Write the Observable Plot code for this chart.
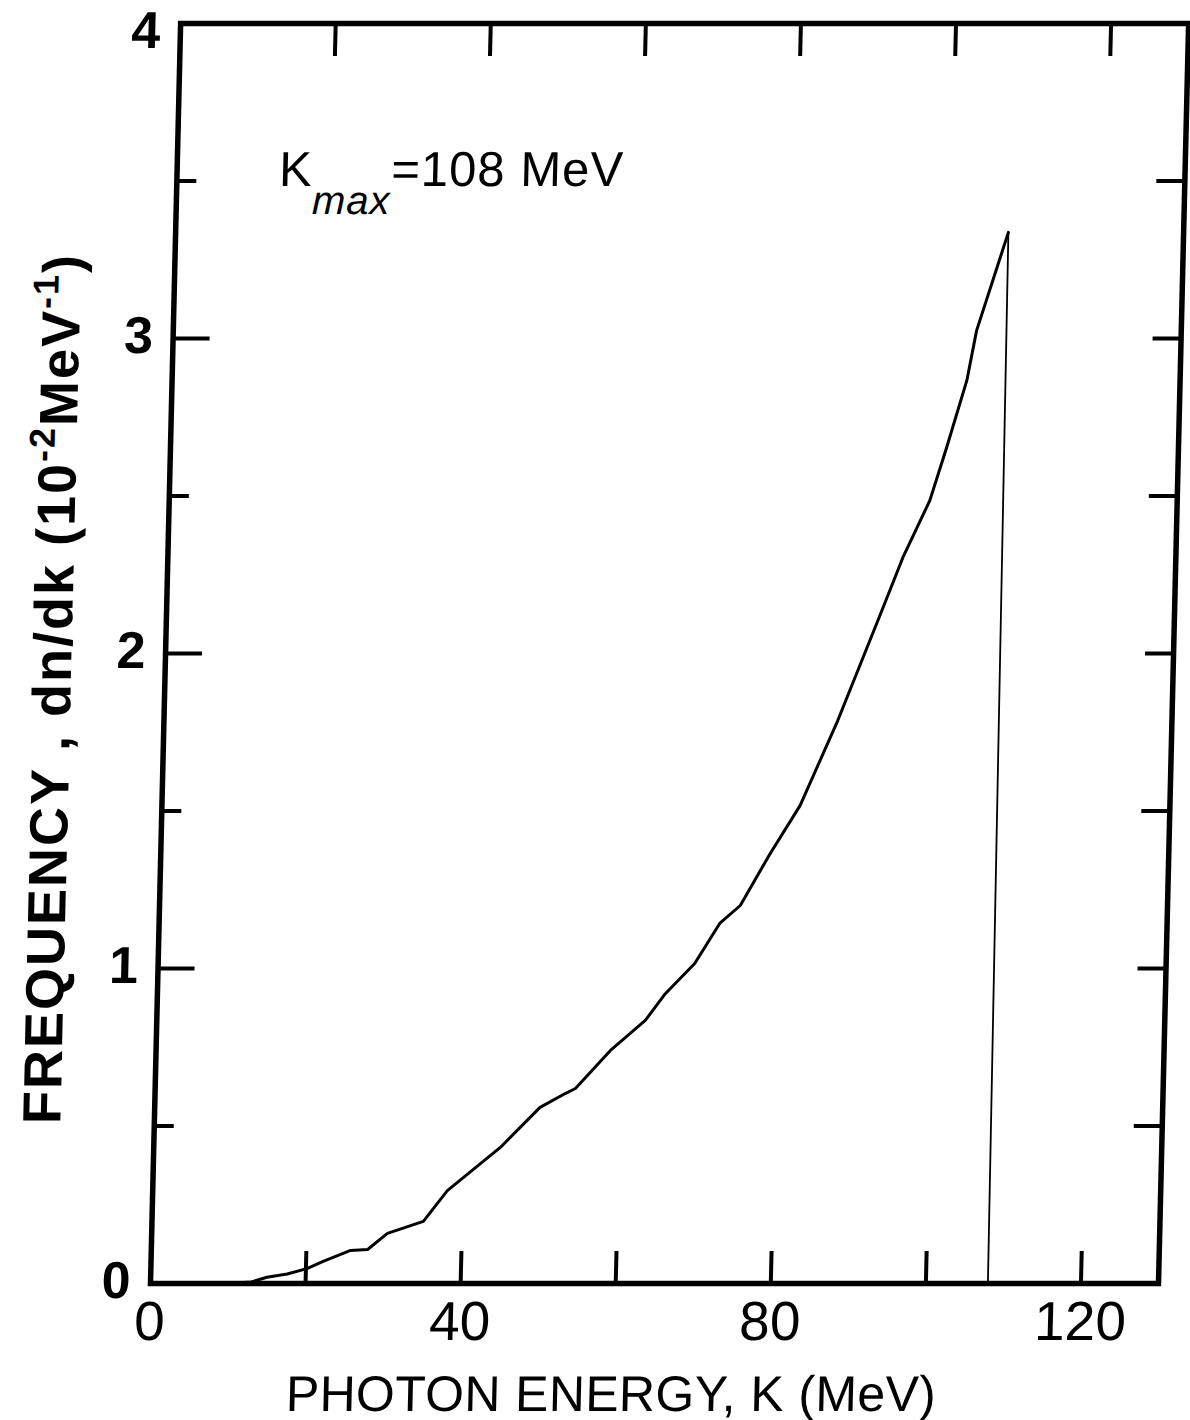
<!DOCTYPE html>
<html>
<head>
<meta charset="utf-8">
<script src="https://cdn.jsdelivr.net/npm/d3@7"></script>
<script src="https://cdn.jsdelivr.net/npm/@observablehq/plot@0.6"></script>
<style>
  html, body { margin: 0; padding: 0; background: #fff; }
  #chart svg { display: block; }
</style>
</head>
<body>
<div id="chart"></div>
<script>
// ---- data ----
const energyK = [0, 10, 13, 15, 17.6, 20.2, 22.2, 25.7, 27.9, 30.4, 35.0, 38.0, 44.7, 49.7, 52.9, 54.2, 58.6, 63.0, 65.5, 69.2, 72.3, 74.9, 78.6, 82.3, 86.9, 89.2, 92.0, 94.8, 98.1, 100.1, 102.5, 103.6, 107.4];
const frequency = [0, 0, 0.005, 0.02, 0.03, 0.048, 0.07, 0.105, 0.108, 0.159, 0.197, 0.295, 0.432, 0.559, 0.603, 0.619, 0.74, 0.835, 0.92, 1.016, 1.143, 1.2, 1.365, 1.517, 1.787, 1.937, 2.12, 2.305, 2.486, 2.654, 2.867, 3.025, 3.337];
const dropK = [107.4, 108];
const dropF = [3.337, 0];

const xTickLabels = [0, 40, 80, 120];
const xTickMarks = [20, 40, 60, 80, 100, 120];
const yTickLabels = [0, 1, 2, 3, 4];
const yTickMarks = [0.5, 1, 1.5, 2, 2.5, 3, 3.5];

const xTitle = "PHOTON ENERGY, K (MeV)";
const yTitleParts = ["FREQUENCY , dn/dk (10", "-2", "MeV", "-1", ")"];
const annotParts = ["K", "max", "=108 MeV"];

// ---- layout ----
const W = 1190, H = 1420;
const mT = 23, mB = 137, mL = 150, mR = 32;
const innerH = H - mT - mB;
const innerW = W - mL - mR;

const curve = energyK.map((k, i) => ({k, f: frequency[i]}));
const drop = dropK.map((k, i) => ({k, f: dropF[i]}));
const yTitle = yTitleParts.join("");
const annot = annotParts.join("");
const yMax = d3.max(yTickLabels);

const yAxisStyle = {tickFormat: d => String(d), tickSize: 0, tickPadding: 20, fontSize: 52, fontWeight: "bold", label: null};

const plot = Plot.plot({
  width: W, height: H,
  marginTop: mT, marginBottom: mB, marginLeft: mL, marginRight: mR,
  x: {domain: [0, 130]},
  y: {domain: [0, 4]},
  style: {fontFamily: "'Liberation Sans', Arial, sans-serif", background: "#fff", color: "#000", overflow: "visible"},
  marks: [
    // inward ticks, bottom & top
    Plot.ruleX(xTickMarks, {x: d => d, insetTop: innerH - 32, stroke: "#000", strokeWidth: 4}),
    Plot.ruleX(xTickMarks, {x: d => d, insetBottom: innerH - 33, stroke: "#000", strokeWidth: 4}),
    // inward ticks, left (long at integers, short at halves) & right
    Plot.ruleY(yTickMarks.filter(v => Number.isInteger(v)), {y: d => d, insetRight: innerW - 37, stroke: "#000", strokeWidth: 4}),
    Plot.ruleY(yTickMarks.filter(v => !Number.isInteger(v)), {y: d => d, insetRight: innerW - 20, stroke: "#000", strokeWidth: 4}),
    Plot.ruleY(yTickMarks, {y: d => d, insetLeft: innerW - 28, stroke: "#000", strokeWidth: 4}),
    // spectrum
    Plot.line(curve, {x: "k", y: "f", stroke: "#000", strokeWidth: 3, strokeLinejoin: "round"}),
    Plot.line(drop, {x: "k", y: "f", stroke: "#000", strokeWidth: 1.8}),
    Plot.frame({stroke: "#000", strokeWidth: 5.5}),
    // tick labels
    Plot.axisX({ticks: xTickLabels, tickFormat: d => String(d), tickSize: 0, tickPadding: 17, fontSize: 55, label: null}),
    Plot.axisY({ticks: yTickLabels.filter(v => v < yMax), dy: -2, ...yAxisStyle}),
    Plot.axisY({ticks: yTickLabels.filter(v => v === yMax), dy: 8, ...yAxisStyle}),
    // titles
    Plot.text([xTitle], {frameAnchor: "bottom", textAnchor: "middle", dx: -41, dy: 127, lineAnchor: "bottom", fontSize: 50, fill: "#000"}),
    Plot.text([yTitle], {frameAnchor: "left", textAnchor: "middle", rotate: -90, dx: -94, dy: 35, lineAnchor: "bottom", fontSize: 54, fontWeight: "bold", fill: "#000"}),
    Plot.text([annot], {frameAnchor: "top-left", dx: 102, dy: 162, textAnchor: "start", lineAnchor: "bottom", fontSize: 49, fill: "#000"})
  ]
});

// rich text: superscripts / subscripts
d3.select(plot).selectAll("text").each(function () {
  const t = d3.select(this);
  const s = this.textContent;
  if (s === yTitle) {
    t.text(null).attr("letter-spacing", 2);
    t.append("tspan").text(yTitleParts[0]);
    t.append("tspan").attr("dy", -22).attr("font-size", 36).text(yTitleParts[1]);
    t.append("tspan").attr("dy", 22).text(yTitleParts[2]);
    t.append("tspan").attr("dy", -22).attr("font-size", 36).text(yTitleParts[3]);
    t.append("tspan").attr("dy", 22).text(yTitleParts[4]);
  } else if (s === annot) {
    t.text(null).attr("letter-spacing", 1);
    t.append("tspan").text(annotParts[0]);
    t.append("tspan").attr("dy", 28).attr("font-size", 40).attr("font-style", "italic").text(annotParts[1]);
    t.append("tspan").attr("dy", -28).text(annotParts[2]);
  } else if (s === xTitle) {
    t.attr("textLength", 650).attr("lengthAdjust", "spacing");
  }
});

// the scanned original is slightly sheared
plot.style.transformOrigin = "0 1283px";
plot.style.transform = "skewX(-1.37deg)";

document.getElementById("chart").appendChild(plot);
</script>
</body>
</html>
